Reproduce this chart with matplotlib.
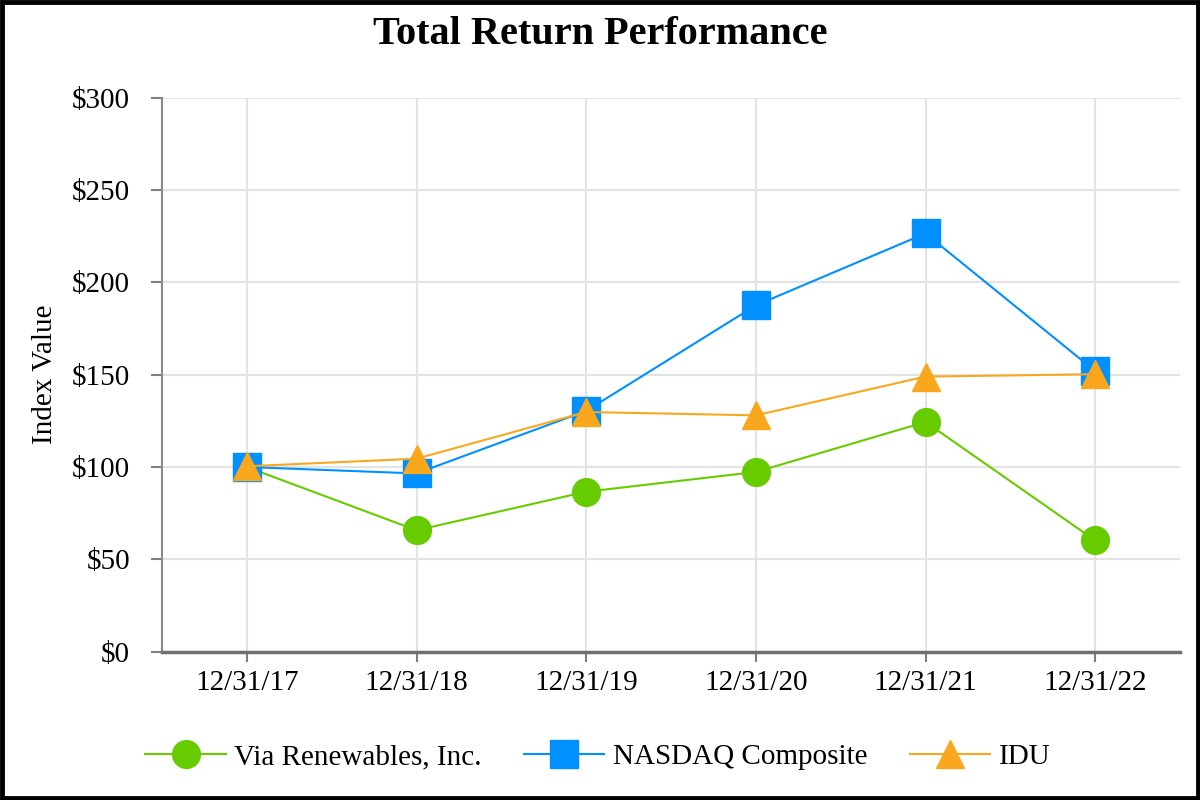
import matplotlib
matplotlib.use("Agg")
import matplotlib.pyplot as plt
from matplotlib.patches import Rectangle

years = ["12/31/17", "12/31/18", "12/31/19", "12/31/20", "12/31/21", "12/31/22"]
via = [100, 65.7, 86.6, 97.3, 124.4, 60.2]
nasdaq = [100, 96.5, 130.4, 187.6, 226.6, 152.0]
idu = [100.4, 104.5, 129.8, 128.0, 149.0, 150.3]

names = ["Via Renewables, Inc.", "NASDAQ Composite", "IDU"]
colours = ["#66cc00", "#0090ff", "#f9a81e"]
markers = ["o", "s", "^"]

plt.rcParams["font.family"] = ["Liberation Serif", "DejaVu Serif"]

fig = plt.figure(figsize=(12, 8), dpi=100)
ax = fig.add_axes([162 / 1200, 1 - 651.5 / 800, (1180 - 162) / 1200, (651.5 - 98) / 800])

x = range(len(years))
for vals, name, c, m in zip([via, nasdaq, idu], names, colours, markers):
    ax.plot(x, vals, color=c, lw=1.5, marker=m, markersize=20, label=name)

ax.set_xlim(-0.5, 5.5)
ax.set_ylim(0, 300)
ax.set_yticks(range(0, 301, 50))
ax.set_yticklabels(["$" + str(v) for v in range(0, 301, 50)])
ax.set_xticks(list(x))
ax.set_xticklabels(years)
ax.tick_params(labelsize=21, color="#808080", width=1.5)
ax.tick_params(axis="y", length=8, pad=15)
ax.tick_params(axis="x", length=7, pad=6)
ax.grid(True, color="#e3e3e3", lw=1.5)
ax.set_axisbelow(True)
for s in ["top", "right"]:
    ax.spines[s].set_visible(False)
ax.spines["left"].set_color("#8a8a8a")
ax.spines["left"].set_linewidth(1.5)
ax.spines["bottom"].set_color("#707070")
ax.spines["bottom"].set_linewidth(2.5)
ax.set_ylabel("Index Value", fontsize=21)
ax.yaxis.set_label_coords(-104 / 1018, 0.5)

fig.text(0.5, 1 - 35 / 800, "Total Return Performance", ha="center", va="center",
         fontsize=29, fontweight="bold")

fig.legend(loc="center", bbox_to_anchor=(598 / 1200, 1 - 757 / 800), ncol=3, frameon=False,
           fontsize=21, markerscale=1.0, handlelength=2.75, columnspacing=1.45, handletextpad=0.3)

fig.patches.append(Rectangle((0.002, 0.003), 0.996, 0.994, transform=fig.transFigure,
                             fill=False, edgecolor="black", lw=3.5))

fig.savefig("out.png", dpi=100)
